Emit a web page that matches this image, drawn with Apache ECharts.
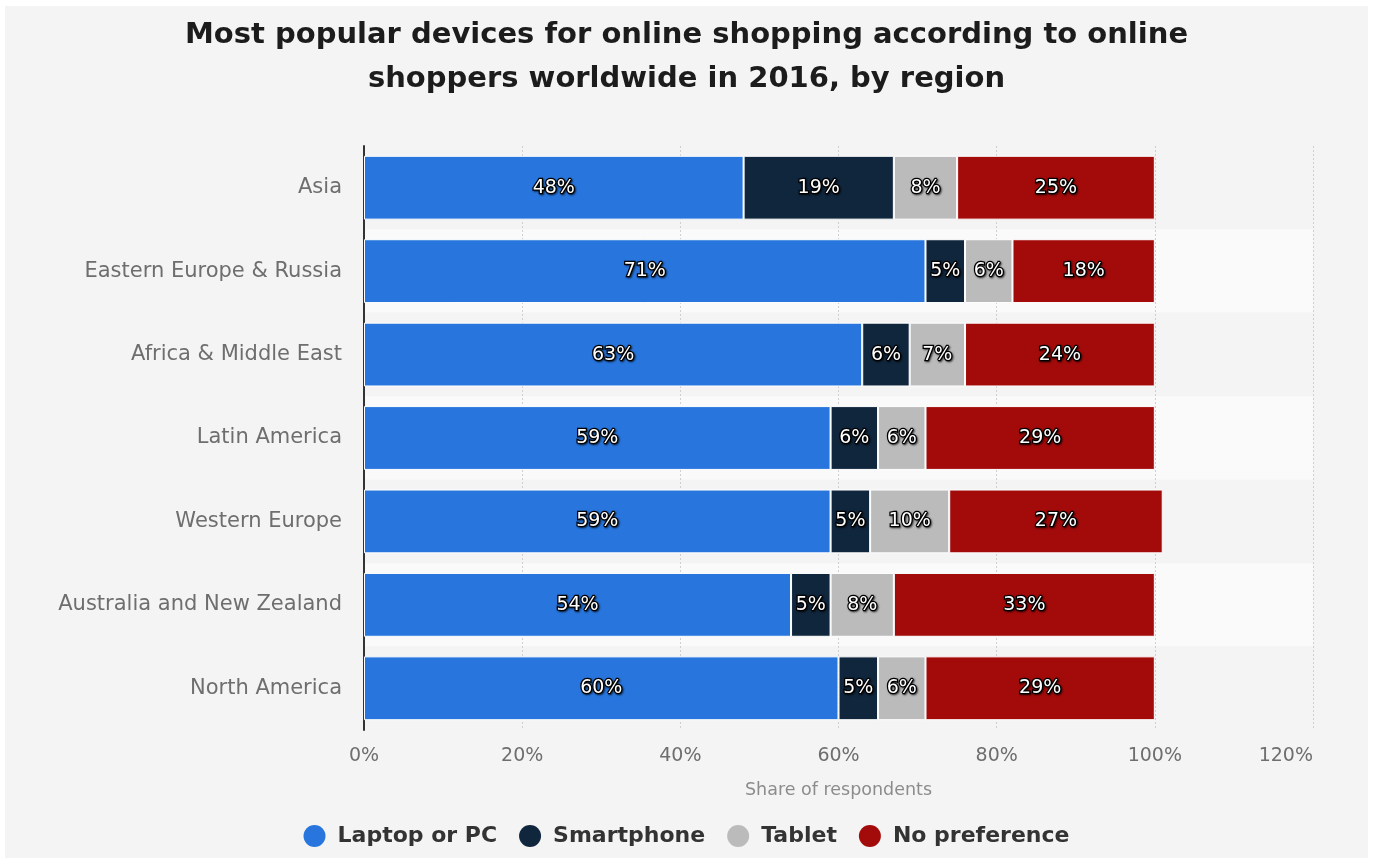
<!DOCTYPE html>
<html>
<head>
<meta charset="utf-8">
<script src="https://cdn.jsdelivr.net/npm/echarts@6/dist/echarts.min.js"></script>
<style>
  html, body { margin: 0; padding: 0; background: #ffffff; }
  #frame { position: absolute; left: 5px; top: 6px; width: 1363px; height: 852px; background: #f4f4f4; }
  #chart { width: 1363px; height: 852px; }
</style>
</head>
<body>
<div id="frame"><div id="chart"></div></div>
<script>
// Regions, top to bottom
const regions = [
  'Asia',
  'Eastern Europe & Russia',
  'Africa & Middle East',
  'Latin America',
  'Western Europe',
  'Australia and New Zealand',
  'North America'
];

// Share of respondents (%) per device, same order as regions
const laptopPC     = [48, 71, 63, 59, 59, 54, 60];
const smartphone   = [19, 5, 6, 6, 5, 5, 5];
const tablet       = [8, 6, 7, 6, 10, 8, 6];
const noPreference = [25, 18, 24, 29, 27, 33, 29];

const seriesNames  = ['Laptop or PC', 'Smartphone', 'Tablet', 'No preference'];
const seriesColors = ['#2876dd', '#10263d', '#bbbbbb', '#a30b0b'];
const seriesData   = [laptopPC, smartphone, tablet, noPreference];

// Horizontal axis ticks (%)
const xTicks = [0, 20, 40, 60, 80, 100, 120];

const FONT = 'DejaVu Sans';

const chart = echarts.init(document.getElementById('chart'), null, { renderer: 'canvas' });

chart.setOption({
  backgroundColor: '#f4f4f4',
  animation: false,
  title: {
    text: 'Most popular devices for online shopping according to online\nshoppers worldwide in 2016, by region',
    left: 'center',
    top: 2,
    textStyle: {
      fontFamily: FONT,
      fontWeight: 'bold',
      fontSize: 29,
      color: '#1c1c1c',
      lineHeight: 44
    }
  },
  legend: {
    bottom: 6,
    left: 'center',
    icon: 'circle',
    itemWidth: 36,
    itemHeight: 22,
    itemGap: 22,
    itemStyle: { borderWidth: 0 },
    textStyle: { fontFamily: FONT, fontWeight: 'bold', fontSize: 22, color: '#333333' },
    data: seriesNames
  },
  grid: {
    left: 359,
    right: 55,
    top: 140,
    bottom: 128,
    containLabel: false
  },
  xAxis: {
    type: 'value',
    min: xTicks[0],
    max: xTicks[xTicks.length - 1],
    interval: xTicks[1] - xTicks[0],
    name: 'Share of respondents',
    nameLocation: 'middle',
    nameGap: 51,
    nameTextStyle: { fontFamily: FONT, fontSize: 17.5, color: '#8c8c8c' },
    axisLine: { show: false },
    axisTick: { show: false },
    axisLabel: {
      fontFamily: FONT, fontSize: 19, color: '#6e6e6e', margin: 17,
      alignMaxLabel: 'right',
      formatter: '{value}%'
    },
    splitLine: { show: true, lineStyle: { color: '#cfcfcf', type: [2, 2], width: 1 } }
  },
  yAxis: {
    type: 'category',
    inverse: true,
    data: regions,
    axisLine: { show: true, lineStyle: { color: '#333333', width: 2 } },
    axisTick: { show: false },
    axisLabel: { fontFamily: FONT, fontSize: 21, color: '#6e6e6e', margin: 22 },
    splitArea: { show: true, areaStyle: { color: ['#f4f4f4', '#fafafa'] } }
  },
  series: seriesData.map((vals, i) => ({
    name: seriesNames[i],
    type: 'bar',
    stack: 'total',
    barWidth: '76.5%',
    data: vals,
    itemStyle: { color: seriesColors[i], borderColor: '#ffffff', borderWidth: 1 },
    label: {
      show: true,
      position: 'inside',
      formatter: '{c}%',
      fontFamily: FONT,
      fontSize: 19,
      color: '#ffffff',
      textBorderColor: '#000000',
      textBorderWidth: 2.5,
      textShadowColor: 'rgba(0,0,0,0.6)',
      textShadowBlur: 2,
      textShadowOffsetX: 1,
      textShadowOffsetY: 1
    }
  }))
});
</script>
</body>
</html>
